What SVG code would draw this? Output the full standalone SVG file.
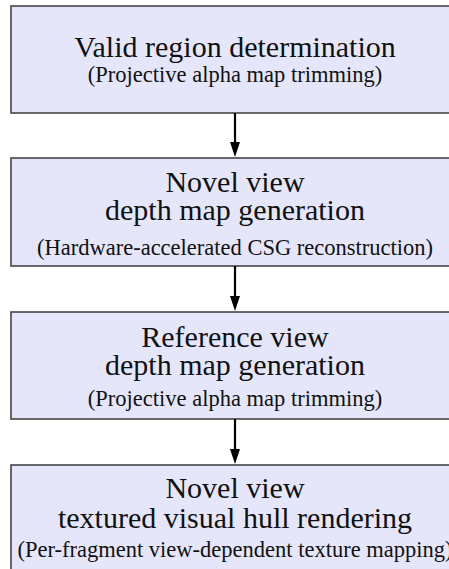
<svg xmlns="http://www.w3.org/2000/svg" width="449" height="569" viewBox="0 0 449 569">
<style>
.box{fill:#e6e6fb;stroke:#3a3a3a;stroke-width:1.5}
.t{font-family:"Liberation Serif","Times New Roman",serif;font-size:30px;fill:#111;text-anchor:middle}
.s{font-family:"Liberation Serif","Times New Roman",serif;font-size:22.5px;fill:#111;text-anchor:middle}
.c{stroke:#000;stroke-width:2.2;fill:none}
</style>
<rect width="449" height="569" fill="#fff"/>
<g id="n1">
<rect class="box" x="11" y="6" width="448" height="107"/>
<text class="t" x="235" y="57">Valid region determination</text>
<text class="s" x="235" y="82">(Projective alpha map trimming)</text>
</g>
<g id="n2">
<rect class="box" x="11" y="158" width="448" height="108"/>
<text class="t" x="235" y="192">Novel view</text>
<text class="t" x="235" y="220">depth map generation</text>
<text class="s" x="235" y="255">(Hardware-accelerated CSG reconstruction)</text>
</g>
<g id="n3">
<rect class="box" x="11" y="312" width="448" height="107"/>
<text class="t" x="235" y="347">Reference view</text>
<text class="t" x="235" y="375">depth map generation</text>
<text class="s" x="235" y="406">(Projective alpha map trimming)</text>
</g>
<g id="n4">
<rect class="box" x="11" y="465" width="448" height="120"/>
<text class="t" x="235" y="498">Novel view</text>
<text class="t" x="235" y="528">textured visual hull rendering</text>
<text class="s" x="235" y="557">(Per-fragment view-dependent texture mapping)</text>
</g>
<g id="connectors">
<path d="M235,113 V142" class="c"/>
<path d="M230,142 L240,142 L235,157 Z" fill="#000"/>
<path d="M235,266 V296" class="c"/>
<path d="M230,296 L240,296 L235,311 Z" fill="#000"/>
<path d="M235,419 V449" class="c"/>
<path d="M230,449 L240,449 L235,464 Z" fill="#000"/>
</g>
</svg>
